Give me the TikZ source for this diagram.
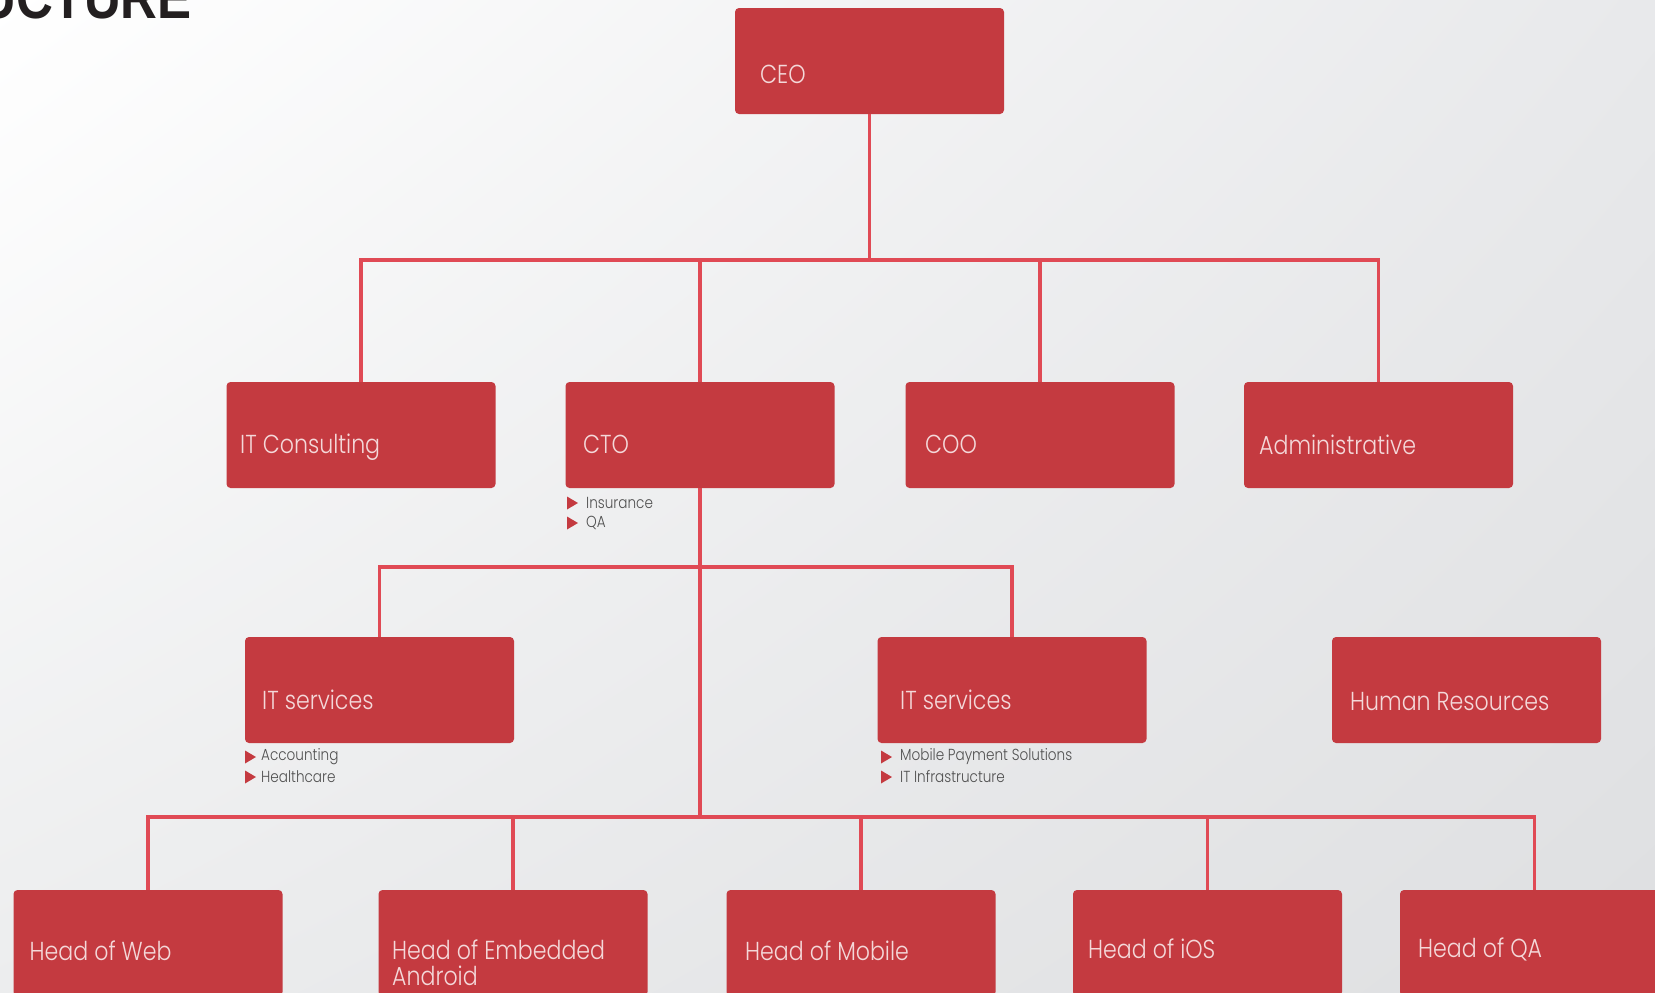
\documentclass[tikz,border=0pt]{standalone}
\usepackage{fontspec}
\newfontfamily\boxfont{Poppins Light}[FakeStretch=0.85]
\newfontfamily\titlefont{Liberation Sans}[FakeStretch=0.85]
\usetikzlibrary{calc,shadings}
\definecolor{boxred}{HTML}{C43A40}
\definecolor{linered}{HTML}{E04A55}
\definecolor{boxtxt}{HTML}{F4D8D9}
\definecolor{bultxt}{HTML}{505050}
\definecolor{titleblk}{HTML}{231F20}
\definecolor{bgul}{HTML}{FFFFFF}
\definecolor{bgur}{HTML}{E8E9EB}
\definecolor{bgll}{HTML}{ECEDEE}
\definecolor{bglr}{HTML}{DEDFE1}
\tikzset{
  orgbox/.style={rectangle, rounded corners=4pt, fill=boxred, minimum width=269pt, minimum height=106pt, inner sep=0pt},
  boxlabel/.style={anchor=base west, inner sep=0pt, text=boxtxt, font=\boxfont\fontsize{26}{26}\selectfont, align=left},
  conn/.style={draw=linered, line width=3.6pt},
  bullabel/.style={anchor=west, inner sep=0pt, text=bultxt, font=\boxfont\fontsize{16}{18}\selectfont},
  bultri/.style={fill=boxred}
}
\begin{document}
\begin{tikzpicture}[x=1pt, y=-1pt]
\useasboundingbox (0,0) rectangle (1655,993);
\clip (0,0) rectangle (1655,993);
\shade[upper left=bgul, upper right=bgur, lower left=bgll, lower right=bglr] (0,0) rectangle (1655,993);

% title fragment (cut off at the top edge, as in the reference)
\node[anchor=base east, inner sep=0pt, text=titleblk, font=\titlefont\bfseries\fontsize{60}{60}\selectfont] (title) at (192,18) {STRUCTURE};

% bus coordinates
\coordinate (bus1) at (0,260);
\coordinate (bus2) at (0,567);
\coordinate (bus3) at (0,817);

% boxes
\node[orgbox] (ceo) at (869.5,61) {};
\node[orgbox] (itc) at (361,435) {};
\node[orgbox] (cto) at (700,435) {};
\node[orgbox] (coo) at (1040,435) {};
\node[orgbox] (adm) at (1378.5,435) {};
\node[orgbox] (its1) at (379.5,690) {};
\node[orgbox] (its2) at (1012,690) {};
\node[orgbox] (hr) at (1466.5,690) {};
\node[orgbox] (web) at (148,943) {};
\node[orgbox] (emb) at (513,943) {};
\node[orgbox] (mob) at (861,943) {};
\node[orgbox] (ios) at (1207.5,943) {};
\node[orgbox] (qa) at (1534.5,943) {};

% box labels
\node[boxlabel] (tceo) at (760,83) {CEO};
\node[boxlabel] (titc) at (240,453) {IT Consulting};
\node[boxlabel] (tcto) at (583,453) {CTO};
\node[boxlabel] (tcoo) at (925,453) {COO};
\node[boxlabel] (tadm) at (1259,454) {Administrative};
\node[boxlabel] (tits1) at (262,709) {IT services};
\node[boxlabel] (tits2) at (900,709) {IT services};
\node[boxlabel] (thr) at (1350,710) {Human Resources};
\node[boxlabel] (tweb) at (29.5,960) {Head of Web};
\node[boxlabel] (temb) at (392,985) {Head of Embedded\\Android};
\node[boxlabel] (tmob) at (745,960) {Head of Mobile};
\node[boxlabel] (tios) at (1088,958) {Head of iOS};
\node[boxlabel] (tqa) at (1418,957) {Head of QA};

% connectors
\draw[conn] (ceo.south) -- (ceo.south |- bus1);
\draw[conn] (itc.north) -- (itc.north |- bus1) -- (adm.north |- bus1) -- (adm.north);
\draw[conn] (cto.north) -- (cto.north |- bus1);
\draw[conn] (coo.north) -- (coo.north |- bus1);
\draw[conn] (cto.south) -- (cto.south |- bus3);
\draw[conn] (its1.north) -- (its1.north |- bus2) -- (its2.north |- bus2) -- (its2.north);
\draw[conn] (web.north) -- (web.north |- bus3) -- (qa.north |- bus3) -- (qa.north);
\draw[conn] (emb.north) -- (emb.north |- bus3);
\draw[conn] (mob.north) -- (mob.north |- bus3);
\draw[conn] (ios.north) -- (ios.north |- bus3);

% bullets
\node[bullabel] (b1) at (586,503) {Insurance};
\node[bullabel] (b2) at (586,523) {QA};
\node[bullabel] (b3) at (261,757) {Accounting};
\node[bullabel] (b4) at (261,777) {Healthcare};
\node[bullabel] (b5) at (900,757) {Mobile Payment Solutions};
\node[bullabel] (b6) at (900,777) {IT Infrastructure};
\foreach \b/\dx in {b1/19, b2/19, b3/16, b4/16, b5/19, b6/19}{
  \fill[bultri] ($(\b.west)+(-\dx,-6.5)$) -- ++(11,6.5) -- ++(-11,6.5) -- cycle;
}
\end{tikzpicture}
\end{document}
